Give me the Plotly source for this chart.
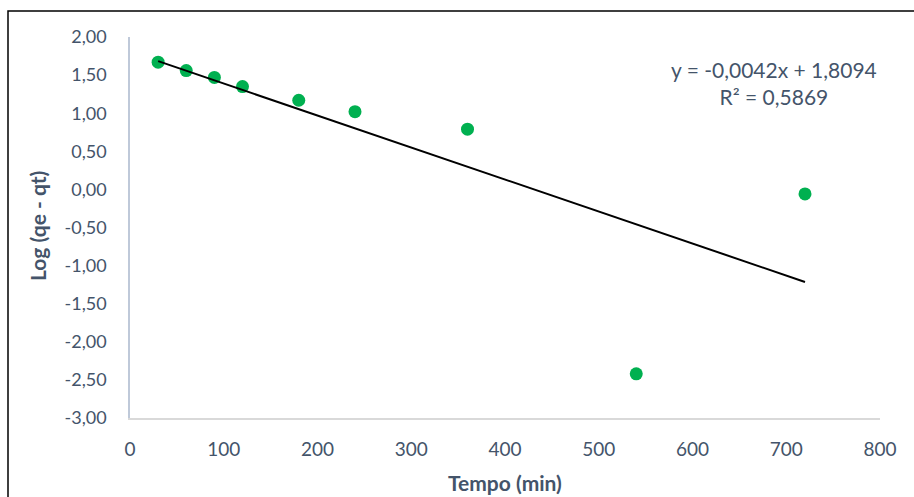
import plotly.graph_objects as go

tempo = [30, 60, 90, 120, 180, 240, 360, 540, 720]
log_qe_qt = [1.67, 1.56, 1.47, 1.35, 1.17, 1.02, 0.79, -2.42, -0.06]
slope = -0.0042
intercept = 1.8094
r2 = 0.5869
x_ticks = [0, 100, 200, 300, 400, 500, 600, 700, 800]
y_ticks = [2.0, 1.5, 1.0, 0.5, 0.0, -0.5, -1.0, -1.5, -2.0, -2.5, -3.0]

def fmt(v):
    return f"{v:.2f}".replace(".", ",")

trend_x = [min(tempo), max(tempo)]
trend_y = [slope * x + intercept for x in trend_x]

font_fam = "Lato, 'Open Sans', sans-serif"
txt_col = "#44546A"

W, H = 914, 497
L, R, T, B = 130, 34, 37, 79
PW, PH = W - L - R, H - T - B

def px(x):
    return (x - L) / PW

def py(y):
    return (H - B - y) / PH

fig = go.Figure()
fig.add_trace(go.Scatter(x=tempo, y=log_qe_qt, mode="markers",
                         marker=dict(color="#00B050", size=13, line=dict(width=0)),
                         showlegend=False))
fig.add_trace(go.Scatter(x=trend_x, y=trend_y, mode="lines",
                         line=dict(color="black", width=2), showlegend=False))

fig.update_layout(
    width=W, height=H,
    margin=dict(l=L, r=R, t=T, b=B),
    paper_bgcolor="white", plot_bgcolor="white",
    font=dict(family=font_fam, color=txt_col, size=18),
    xaxis=dict(range=[0, 800], tickvals=x_ticks, ticktext=[str(v) for v in x_ticks],
               showgrid=False, zeroline=False, showline=True, linecolor="#D9D9D9",
               linewidth=1.5, ticks="", ticklabelstandoff=13, automargin=False,
               tickfont=dict(size=19)),
    yaxis=dict(range=[-3, 2], tickvals=y_ticks, ticktext=[fmt(v) for v in y_ticks],
               showgrid=False, zeroline=False, showline=True, linecolor="#BFC9D9",
               linewidth=1.5, ticks="", ticklabelstandoff=18, automargin=False,
               tickfont=dict(size=18)),
    shapes=[dict(type="rect", xref="paper", yref="paper",
                 x0=px(8), x1=px(930), y0=py(520), y1=py(11),
                 line=dict(color="black", width=1.5), layer="below")],
    annotations=[
        dict(xref="paper", yref="paper", x=px(774), y=py(83),
             text=f"y = {str(slope).replace('.', ',')}x + {str(intercept).replace('.', ',')}<br>R² = {str(r2).replace('.', ',')}",
             showarrow=False, align="center", xanchor="center", yanchor="middle",
             font=dict(size=21, color=txt_col)),
        dict(xref="paper", yref="paper", x=px(505), y=py(482),
             text="<b>Tempo (min)</b>", showarrow=False,
             xanchor="center", yanchor="middle", font=dict(size=21, color=txt_col)),
        dict(xref="paper", yref="paper", x=px(37), y=py(226),
             text="<b>Log (qe - qt)</b>", showarrow=False, textangle=-90,
             xanchor="center", yanchor="middle", font=dict(size=21, color=txt_col)),
    ],
)

fig.write_html("out.html")
